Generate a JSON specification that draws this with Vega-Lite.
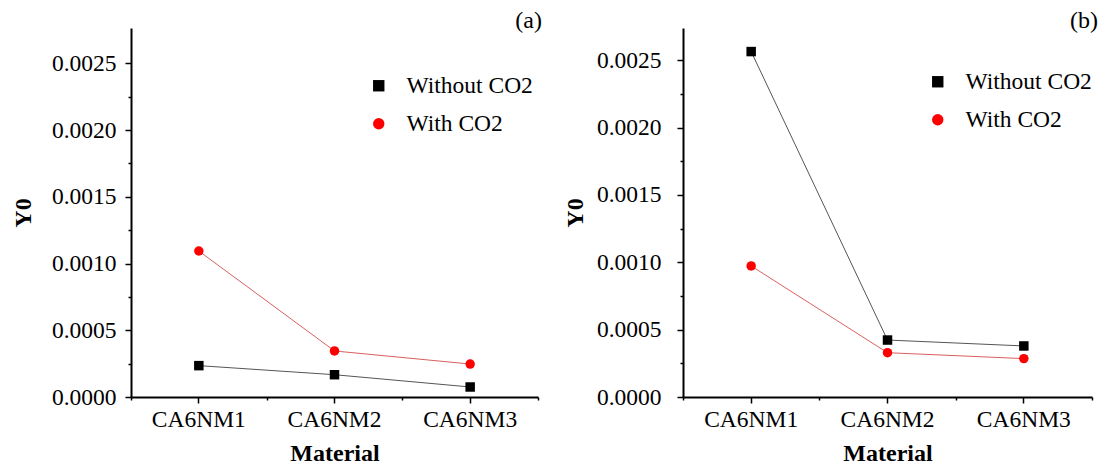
{
  "$schema": "https://vega.github.io/schema/vega-lite/v6.json",
  "padding": {"left": 11, "top": 9, "right": 0, "bottom": 0},
  "spacing": 21,
  "config": {
    "view": {"stroke": null},
    "font": "Liberation Serif"
  },
  "resolve": {
    "scale": {"x": "independent", "y": "independent", "color": "independent", "shape": "independent"},
    "legend": {"color": "independent", "shape": "independent"}
  },
  "hconcat": [
    {
      "width": 407,
      "height": 369,
      "title": {"text": "(a)", "anchor": "end", "frame": "group", "orient": "top", "offset": -5, "dx": 4, "font": "Liberation Serif", "fontSize": 24, "fontWeight": "normal", "color": "#000000"},
      "data": {"values": [
        {"material": "CA6NM1", "series": "Without CO2", "y0": 0.000235},
        {"material": "CA6NM2", "series": "Without CO2", "y0": 0.000167},
        {"material": "CA6NM3", "series": "Without CO2", "y0": 0.000075},
        {"material": "CA6NM1", "series": "With CO2", "y0": 0.001094},
        {"material": "CA6NM2", "series": "With CO2", "y0": 0.000345},
        {"material": "CA6NM3", "series": "With CO2", "y0": 0.000247}
      ]},
      "layer": [
        {
          "mark": {"type": "line", "strokeWidth": 1},
          "encoding": {
            "x": {"field": "material", "type": "nominal", "sort": ["CA6NM1", "CA6NM2", "CA6NM3"],
                  "scale": {"type": "band", "paddingInner": 0, "paddingOuter": 0},
                  "axis": {"orient": "bottom", "title": "Material", "labelAngle": 0, "tickSize": 6, "labelPadding": 4, "titlePadding": 11,
                           "domainColor": "#000000", "domainWidth": 2, "tickColor": "#000000", "tickWidth": 1.5,
                           "labelFont": "Liberation Serif", "labelFontSize": 23.5, "labelColor": "#000000",
                           "titleFont": "Liberation Serif", "titleFontSize": 24, "titleFontWeight": "bold", "titleColor": "#000000", "grid": false}},
            "y": {"field": "y0", "type": "quantitative", "scale": {"domain": [0, 0.002765], "nice": false, "zero": true},
                  "axis": {"orient": "left", "title": "Y0", "values": [0, 0.0005, 0.001, 0.0015, 0.002, 0.0025], "format": ".4f", "tickSize": 6, "labelPadding": 9, "titlePadding": 16,
                           "domainColor": "#000000", "domainWidth": 2, "tickColor": "#000000", "tickWidth": 1.5,
                           "labelFont": "Liberation Serif", "labelFontSize": 23.5, "labelColor": "#000000",
                           "titleFont": "Liberation Serif", "titleFontSize": 24, "titleFontWeight": "bold", "titleColor": "#000000", "grid": false}},
            "detail": {"field": "series", "type": "nominal"},
            "color": {"condition": {"test": "datum.series === 'With CO2'", "value": "#d9605f"}, "value": "#555555"}
          }
        },
        {
          "mark": {"type": "point", "filled": true, "size": 90, "opacity": 1},
          "encoding": {
            "x": {"field": "material", "type": "nominal", "sort": ["CA6NM1", "CA6NM2", "CA6NM3"],
                  "axis": {"orient": "bottom", "title": null, "labels": false, "domain": false, "tickBand": "extent", "tickSize": 3, "tickColor": "#000000", "tickWidth": 1.5, "grid": false}},
            "y": {"field": "y0", "type": "quantitative",
                  "axis": {"orient": "left", "title": null, "labels": false, "domain": false, "values": [0.00025, 0.00075, 0.00125, 0.00175, 0.00225], "tickSize": 3, "tickColor": "#000000", "tickWidth": 1.5, "grid": false}},
            "color": {"field": "series", "type": "nominal", "scale": {"domain": ["Without CO2", "With CO2"], "range": ["#000000", "#ff0000"]},
                      "legend": {"orient": "none", "legendX": 236, "legendY": 46, "title": null, "padding": 0, "labelFont": "Liberation Serif", "labelFontSize": 23.5, "labelColor": "#000000", "symbolSize": 130, "symbolStrokeWidth": 0, "symbolOpacity": 1, "rowPadding": 13, "labelOffset": 16}},
            "shape": {"field": "series", "type": "nominal", "scale": {"domain": ["Without CO2", "With CO2"], "range": ["square", "circle"]},
                      "legend": {"orient": "none", "legendX": 236, "legendY": 46, "title": null, "padding": 0, "labelFont": "Liberation Serif", "labelFontSize": 23.5, "labelColor": "#000000", "symbolSize": 130, "symbolStrokeWidth": 0, "symbolOpacity": 1, "rowPadding": 13, "labelOffset": 16}}
          }
        }
      ],
      "resolve": {"axis": {"x": "independent", "y": "independent"}}
    },
    {
      "width": 409,
      "height": 369,
      "title": {"text": "(b)", "anchor": "end", "frame": "group", "orient": "top", "offset": -5, "dx": 6, "font": "Liberation Serif", "fontSize": 24, "fontWeight": "normal", "color": "#000000"},
      "data": {"values": [
        {"material": "CA6NM1", "series": "Without CO2", "y0": 0.002565},
        {"material": "CA6NM2", "series": "Without CO2", "y0": 0.000423},
        {"material": "CA6NM3", "series": "Without CO2", "y0": 0.000379},
        {"material": "CA6NM1", "series": "With CO2", "y0": 0.000973},
        {"material": "CA6NM2", "series": "With CO2", "y0": 0.000329},
        {"material": "CA6NM3", "series": "With CO2", "y0": 0.000285}
      ]},
      "layer": [
        {
          "mark": {"type": "line", "strokeWidth": 1},
          "encoding": {
            "x": {"field": "material", "type": "nominal", "sort": ["CA6NM1", "CA6NM2", "CA6NM3"],
                  "scale": {"type": "band", "paddingInner": 0, "paddingOuter": 0},
                  "axis": {"orient": "bottom", "title": "Material", "labelAngle": 0, "tickSize": 6, "labelPadding": 4, "titlePadding": 11,
                           "domainColor": "#000000", "domainWidth": 2, "tickColor": "#000000", "tickWidth": 1.5,
                           "labelFont": "Liberation Serif", "labelFontSize": 23.5, "labelColor": "#000000",
                           "titleFont": "Liberation Serif", "titleFontSize": 24, "titleFontWeight": "bold", "titleColor": "#000000", "grid": false}},
            "y": {"field": "y0", "type": "quantitative", "scale": {"domain": [0, 0.00274], "nice": false, "zero": true},
                  "axis": {"orient": "left", "title": "Y0", "values": [0, 0.0005, 0.001, 0.0015, 0.002, 0.0025], "format": ".4f", "tickSize": 6, "labelPadding": 16, "titlePadding": 9,
                           "domainColor": "#000000", "domainWidth": 2, "tickColor": "#000000", "tickWidth": 1.5,
                           "labelFont": "Liberation Serif", "labelFontSize": 23.5, "labelColor": "#000000",
                           "titleFont": "Liberation Serif", "titleFontSize": 24, "titleFontWeight": "bold", "titleColor": "#000000", "grid": false}},
            "detail": {"field": "series", "type": "nominal"},
            "color": {"condition": {"test": "datum.series === 'With CO2'", "value": "#d9605f"}, "value": "#555555"}
          }
        },
        {
          "mark": {"type": "point", "filled": true, "size": 90, "opacity": 1},
          "encoding": {
            "x": {"field": "material", "type": "nominal", "sort": ["CA6NM1", "CA6NM2", "CA6NM3"],
                  "axis": {"orient": "bottom", "title": null, "labels": false, "domain": false, "tickBand": "extent", "tickSize": 3, "tickColor": "#000000", "tickWidth": 1.5, "grid": false}},
            "y": {"field": "y0", "type": "quantitative",
                  "axis": {"orient": "left", "title": null, "labels": false, "domain": false, "values": [0.00025, 0.00075, 0.00125, 0.00175, 0.00225], "tickSize": 3, "tickColor": "#000000", "tickWidth": 1.5, "grid": false}},
            "color": {"field": "series", "type": "nominal", "scale": {"domain": ["Without CO2", "With CO2"], "range": ["#000000", "#ff0000"]},
                      "legend": {"orient": "none", "legendX": 243, "legendY": 42, "title": null, "padding": 0, "labelFont": "Liberation Serif", "labelFontSize": 23.5, "labelColor": "#000000", "symbolSize": 130, "symbolStrokeWidth": 0, "symbolOpacity": 1, "rowPadding": 13, "labelOffset": 16}},
            "shape": {"field": "series", "type": "nominal", "scale": {"domain": ["Without CO2", "With CO2"], "range": ["square", "circle"]},
                      "legend": {"orient": "none", "legendX": 243, "legendY": 42, "title": null, "padding": 0, "labelFont": "Liberation Serif", "labelFontSize": 23.5, "labelColor": "#000000", "symbolSize": 130, "symbolStrokeWidth": 0, "symbolOpacity": 1, "rowPadding": 13, "labelOffset": 16}}
          }
        }
      ],
      "resolve": {"axis": {"x": "independent", "y": "independent"}}
    }
  ]
}
